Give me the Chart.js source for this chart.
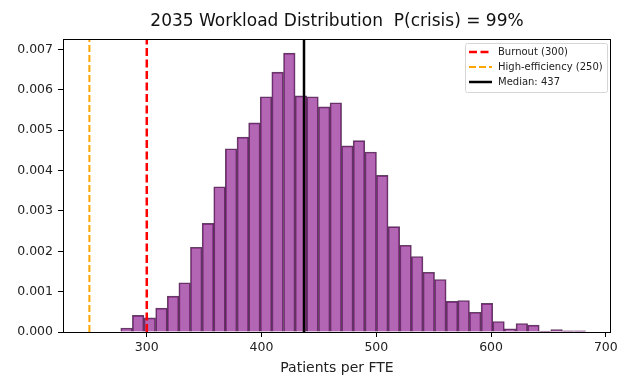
<!DOCTYPE html>
<html>
<head>
<meta charset="utf-8">
<script src="https://cdn.jsdelivr.net/npm/chart.js@4"></script>
<style>
  html, body { margin: 0; padding: 0; background: #fff; }
  canvas { display: block; }
</style>
</head>
<body>
<canvas id="grafico" width="627" height="384"></canvas>
<script>
// histogram bins (centres, patients per FTE) and their density
const binCenters = [282.4, 292.5, 302.6, 312.8, 322.9, 333.0, 343.1, 353.3, 363.4, 373.5,
                    383.7, 393.8, 403.9, 414.0, 424.2, 434.3, 444.4, 454.6, 464.7, 474.8,
                    484.9, 495.1, 505.2, 515.3, 525.5, 535.6, 545.7, 555.8, 566.0, 576.1,
                    586.2, 596.4, 606.5, 616.6, 626.8, 636.9, 647.0, 657.1, 667.3, 677.4];
const density = [0.00010, 0.00041, 0.00035, 0.00059, 0.00089, 0.00122, 0.00210, 0.00269, 0.00360, 0.00454,
                 0.00483, 0.00518, 0.00583, 0.00644, 0.00691, 0.00585, 0.00583, 0.00558, 0.00568, 0.00461,
                 0.00474, 0.00446, 0.00388, 0.00261, 0.00215, 0.00187, 0.00148, 0.00130, 0.00076, 0.00078,
                 0.00049, 0.00071, 0.00026, 0.00008, 0.00021, 0.00017, 0.00002, 0.00006, 0.00003, 0.00003];

// reference lines
const burnout = 300;
const highEfficiency = 250;
const median = 437;

const xTicks = [300, 400, 500, 600, 700];
const yTicks = [0, 0.001, 0.002, 0.003, 0.004, 0.005, 0.006, 0.007];
const xMin = 227, xMax = 704.5;
const yMax = 0.00726;

const fonte = 'DejaVu Sans';

function linhaVertical(valor, label, cor, largura, tracejado) {
    return {
        type: 'line',
        label: label,
        data: [{ x: valor, y: 0 }, { x: valor, y: yMax }],
        borderColor: cor,
        borderWidth: largura,
        borderDash: tracejado,
        pointRadius: 0,
        fill: false,
        order: 0
    };
}

// title, frame and legend drawn inside the plot like matplotlib
const extras = {
    id: 'extras',
    afterDraw(chart) {
        const ctx = chart.ctx;
        const a = chart.chartArea;
        ctx.save();

        // frame
        ctx.strokeStyle = '#000';
        ctx.lineWidth = 1;
        ctx.strokeRect(a.left + 0.5, a.top + 0.5, a.right - a.left - 1, a.bottom - a.top);

        // title
        ctx.fillStyle = '#111';
        ctx.font = '17px "' + fonte + '"';
        ctx.textAlign = 'center';
        ctx.textBaseline = 'middle';
        ctx.fillText('2035 Workload Distribution  P(crisis) = 99%', (a.left + a.right) / 2, 22);

        // legend
        const linhas = chart.data.datasets.filter(d => d.type === 'line');
        const bx = 465, by = 43, bw = 142, bh = 49;
        ctx.fillStyle = 'rgba(255,255,255,0.8)';
        ctx.strokeStyle = '#d6d6d6';
        ctx.beginPath();
        ctx.roundRect(bx + 0.5, by + 0.5, bw, bh, 2);
        ctx.fill();
        ctx.stroke();
        ctx.font = '10px "' + fonte + '"';
        ctx.textAlign = 'left';
        linhas.forEach((d, i) => {
            const y = by + 9 + i * 15;
            ctx.strokeStyle = d.borderColor;
            ctx.lineWidth = d.borderWidth;
            ctx.setLineDash(d.borderDash || []);
            ctx.beginPath();
            ctx.moveTo(bx + 4, y);
            ctx.lineTo(bx + 27, y);
            ctx.stroke();
            ctx.setLineDash([]);
            ctx.fillStyle = '#222';
            ctx.fillText(d.label, bx + 33, y);
        });
        ctx.restore();
    }
};

const ctx = document.getElementById('grafico').getContext('2d');

new Chart(ctx, {
    type: 'bar',
    data: {
        datasets: [
            {
                type: 'bar',
                label: 'density',
                data: binCenters.map((c, i) => ({ x: c, y: density[i] })),
                backgroundColor: 'rgba(128,0,128,0.6)',
                borderColor: 'rgba(60,20,60,0.8)',
                borderWidth: 1,
                barPercentage: 1,
                categoryPercentage: 1,
                grouped: false,
                order: 1
            },
            linhaVertical(burnout, 'Burnout (300)', '#ff0000', 2.5, [8, 3.5]),
            linhaVertical(highEfficiency, 'High-efficiency (250)', '#ffa500', 2, [7, 3]),
            linhaVertical(median, 'Median: 437', '#000000', 2.5, [])
        ]
    },
    options: {
        responsive: false,
        animation: false,
        layout: { padding: { left: 0, right: 16, top: 39, bottom: 0 } },
        plugins: {
            legend: { display: false },
            tooltip: { enabled: false },
            title: { display: false }
        },
        scales: {
            x: {
                type: 'linear',
                min: xMin,
                max: xMax,
                offset: false,
                afterBuildTicks: s => { s.ticks = xTicks.map(v => ({ value: v })); },
                afterFit: s => { s.height = 52; },
                border: { display: false },
                grid: { offset: false, drawOnChartArea: false, drawTicks: true, tickLength: 5, color: '#000' },
                ticks: {
                    padding: 3,
                    color: '#222',
                    font: { family: fonte, size: 12.5 },
                    maxRotation: 0,
                    callback: v => v
                },
                title: {
                    display: true,
                    text: 'Patients per FTE',
                    color: '#222',
                    font: { family: fonte, size: 14 },
                    padding: { top: 0, bottom: 7 }
                }
            },
            y: {
                min: 0,
                max: yMax,
                afterBuildTicks: s => { s.ticks = yTicks.map(v => ({ value: v })); },
                afterFit: s => { s.width = 63; },
                border: { display: false },
                grid: { offset: false, drawOnChartArea: false, drawTicks: true, tickLength: 5, color: '#000' },
                ticks: {
                    padding: 5,
                    color: '#222',
                    font: { family: fonte, size: 12.5 },
                    callback: v => v.toFixed(3)
                }
            }
        }
    },
    plugins: [extras]
});
</script>
</body>
</html>
